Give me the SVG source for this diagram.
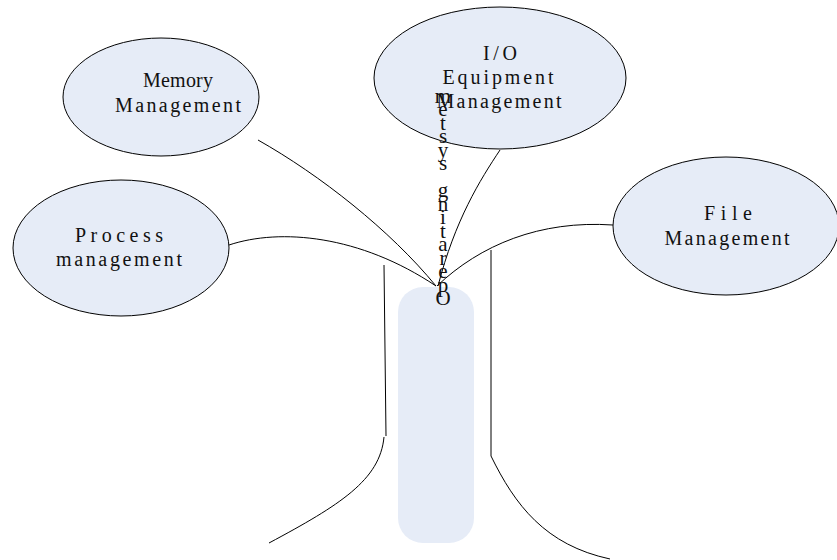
<svg xmlns="http://www.w3.org/2000/svg" width="837" height="560" viewBox="0 0 837 560">
<style>
.node ellipse{fill:#e6ecf7;stroke:#000;stroke-width:1}
.lbl{font-family:"Liberation Serif","Noto Serif CJK SC",serif;font-size:20px;fill:#111;text-anchor:middle}
.vt{font-size:21px}
.conn path{fill:none;stroke:#000;stroke-width:1}
</style>
<rect width="837" height="560" fill="#fff"/>
<g id="trunk"><rect x="398" y="287" width="76" height="256" rx="25" ry="25" fill="#e6ecf7"/></g>
<g id="memory" class="node"><ellipse cx="161" cy="97" rx="98" ry="59"/><text class="lbl" x="178" y="87" textLength="70" lengthAdjust="spacing">Memory</text><text class="lbl" x="178" y="112" textLength="126" lengthAdjust="spacing">Management</text></g>
<g id="process" class="node"><ellipse cx="121" cy="248" rx="108" ry="68"/><text class="lbl" x="119" y="242" textLength="88" lengthAdjust="spacing">Process</text><text class="lbl" x="119" y="266" textLength="126" lengthAdjust="spacing">management</text></g>
<g id="io" class="node"><ellipse cx="500" cy="78" rx="126" ry="71"/><text class="lbl" x="500" y="60" textLength="34" lengthAdjust="spacing">I/O</text><text class="lbl" x="498" y="84" textLength="111" lengthAdjust="spacing">Equipment</text><text class="lbl" x="499" y="108" textLength="125" lengthAdjust="spacing">Management</text></g>
<g id="file" class="node"><ellipse cx="726" cy="226" rx="113" ry="69"/><text class="lbl" x="728" y="220" textLength="48" lengthAdjust="spacing">File</text><text class="lbl" x="727" y="245" textLength="125" lengthAdjust="spacing">Management</text></g>
<g id="connectors" class="conn">
<path d="M258,140 C320,175 390,230 436,286"/>
<path d="M229,245 C280,228 360,235 436,286"/>
<path d="M500,150 C480,180 455,220 438,286"/>
<path d="M613,225 C540,220 480,245 437,286"/>
<path d="M384,265 L386,436"/>
<path d="M384,437 C380,480 340,505 269,543"/>
<path d="M491,250 L491,456"/>
<path d="M491,456 C515,505 545,545 610,559"/>
</g>
<g id="os-label"><text class="lbl vt" x="443 443 443 443 443 443 443 443 443 443 443 443 443 443 443 443" y="305 291.5 278 264.5 251 237.5 224 210.5 197 183.5 170 156.5 143 129.5 116 102.5">Operating system</text></g>
</svg>
